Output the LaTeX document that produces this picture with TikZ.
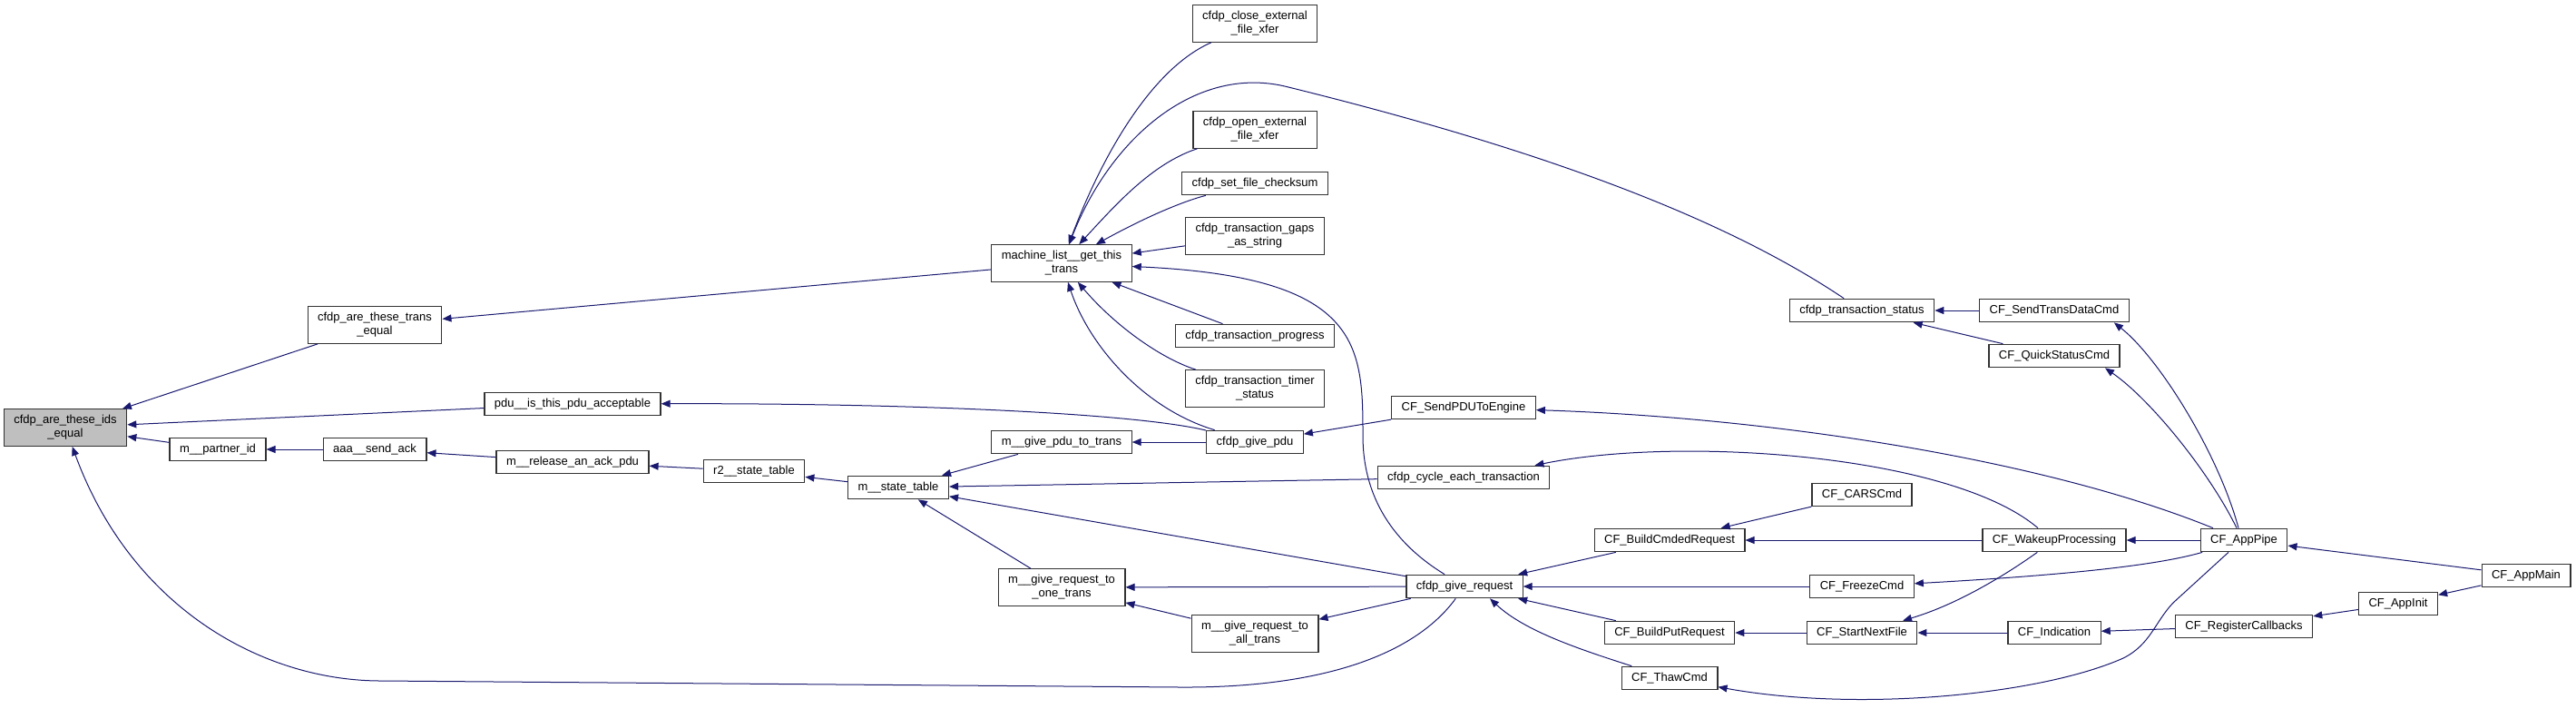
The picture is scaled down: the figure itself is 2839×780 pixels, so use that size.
\documentclass[tikz,border=0pt]{standalone}
\usepackage{fontspec}
\setmainfont{Liberation Sans}
\usetikzlibrary{arrows.meta}
\definecolor{callc}{HTML}{191970}
\definecolor{curgray}{HTML}{BFBFBF}
\tikzset{
  fn/.style={draw=black!80,line width=1.2pt,fill=white,align=center,inner xsep=11pt,inner ysep=0pt,minimum height=25.5pt,font=\fontsize{13}{15}\selectfont},
  fn2/.style={fn,minimum height=40.5pt},
  cur/.style={fn2,fill=curgray},
  ar/.style={{Triangle[length=10pt,width=8pt]}-,draw=callc,line width=1pt},
}
\begin{document}
\begin{tikzpicture}[x=1pt,y=-1pt]
  \useasboundingbox (0,0) rectangle (2839,780);
  \node[cur] (ids) at (72,471) {cfdp\_are\_these\_ids\\\_equal};
  \node[fn] (mpid) at (240,495) {m\_\_partner\_id};
  \node[fn2] (teq) at (413,358) {cfdp\_are\_these\_trans\\\_equal};
  \node[fn] (ack) at (413,495) {aaa\_\_send\_ack};
  \node[fn] (pdu) at (631,445) {pdu\_\_is\_this\_pdu\_acceptable};
  \node[fn] (rel) at (631,509) {m\_\_release\_an\_ack\_pdu};
  \node[fn] (r2) at (831,519) {r2\_\_state\_table};
  \node[fn] (mst) at (990,537) {m\_\_state\_table};
  \node[fn2] (mlist) at (1170,290) {machine\_list\_\_get\_this\\\_trans};
  \node[fn] (gpt) at (1170,487) {m\_\_give\_pdu\_to\_trans};
  \node[fn2] (gro) at (1170,647) {m\_\_give\_request\_to\\\_one\_trans};
  \node[fn2] (close) at (1383,26) {cfdp\_close\_external\\\_file\_xfer};
  \node[fn2] (open) at (1383,143) {cfdp\_open\_external\\\_file\_xfer};
  \node[fn] (chk) at (1383,202) {cfdp\_set\_file\_checksum};
  \node[fn2] (gaps) at (1383,260) {cfdp\_transaction\_gaps\\\_as\_string};
  \node[fn] (prog) at (1383,370) {cfdp\_transaction\_progress};
  \node[fn2] (timer) at (1383,428) {cfdp\_transaction\_timer\\\_status};
  \node[fn] (gpdu) at (1383,487) {cfdp\_give\_pdu};
  \node[fn2] (gra) at (1383,698) {m\_\_give\_request\_to\\\_all\_trans};
  \node[fn] (spdu) at (1613,449) {CF\_SendPDUToEngine};
  \node[fn] (cyc) at (1613,526) {cfdp\_cycle\_each\_transaction};
  \node[fn] (greq) at (1614,646) {cfdp\_give\_request};
  \node[fn] (bcr) at (1840,595) {CF\_BuildCmdedRequest};
  \node[fn] (bpr) at (1840,697) {CF\_BuildPutRequest};
  \node[fn] (thaw) at (1840,747) {CF\_ThawCmd};
  \node[fn] (tst) at (2052,342) {cfdp\_transaction\_status};
  \node[fn] (cars) at (2052,545) {CF\_CARSCmd};
  \node[fn] (frz) at (2052,646) {CF\_FreezeCmd};
  \node[fn] (snf) at (2052,697) {CF\_StartNextFile};
  \node[fn] (stdc) at (2264,342) {CF\_SendTransDataCmd};
  \node[fn] (qsc) at (2264,392) {CF\_QuickStatusCmd};
  \node[fn] (wake) at (2264,595) {CF\_WakeupProcessing};
  \node[fn] (ind) at (2264,697) {CF\_Indication};
  \node[fn] (pipe) at (2473,595) {CF\_AppPipe};
  \node[fn] (reg) at (2473,690) {CF\_RegisterCallbacks};
  \node[fn] (init) at (2643,665) {CF\_AppInit};
  \node[fn] (amain) at (2784,634) {CF\_AppMain};
  % straight calls
  \draw[ar] (ids) -- (teq); \draw[ar] (ids) -- (pdu); \draw[ar] (ids) -- (mpid);
  \draw[ar] (mpid) -- (ack); \draw[ar] (ack) -- (rel); \draw[ar] (rel) -- (r2);
  \draw[ar] (r2) -- (mst); \draw[ar] (teq) -- (mlist);
  \draw[ar] (mst) -- (gpt); \draw[ar] (mst) -- (cyc); \draw[ar] (mst) -- (greq);
  \draw[ar] (mst) -- (gro); \draw[ar] (gpt) -- (gpdu); \draw[ar] (gro) -- (greq);
  \draw[ar] (gro) -- (gra); \draw[ar] (gra) -- (greq);
  \draw[ar] (mlist) -- (gaps); \draw[ar] (mlist) -- (prog);
  \draw[ar] (gpdu) -- (spdu); \draw[ar] (tst) -- (stdc); \draw[ar] (tst) -- (qsc);
  \draw[ar] (greq) -- (bcr); \draw[ar] (greq) -- (frz); \draw[ar] (greq) -- (bpr);
  \draw[ar] (bcr) -- (cars); \draw[ar] (bcr) -- (wake); \draw[ar] (bpr) -- (snf);
  \draw[ar] (snf) -- (ind); \draw[ar] (wake) -- (pipe); \draw[ar] (ind) -- (reg);
  \draw[ar] (pipe) -- (amain); \draw[ar] (reg) -- (init); \draw[ar] (init) -- (amain);
  % curved calls
  \draw[ar] (ids) .. controls (145,670) and (290,750) .. (420,750) -- (1300,757) .. controls (1460,758) and (1560,720) .. (greq);
  \draw[ar] (pdu) .. controls (1000,444) and (1250,455) .. (gpdu);
  \draw[ar] (mlist) .. controls (1215,170) and (1270,75) .. (close);
  \draw[ar] (mlist) .. controls (1225,150) and (1320,70) .. (1420,96) .. controls (1700,165) and (1900,240) .. (tst);
  \draw[ar] (mlist) .. controls (1230,225) and (1270,180) .. (open);
  \draw[ar] (mlist) .. controls (1270,235) and (1310,220) .. (chk);
  \draw[ar] (mlist) .. controls (1230,360) and (1280,395) .. (timer);
  \draw[ar] (mlist) .. controls (1200,380) and (1260,450) .. (gpdu);
  \draw[ar] (mlist) .. controls (1500,305) and (1502,380) .. (1502,480) .. controls (1502,565) and (1555,610) .. (greq);
  \draw[ar] ([xshift=-17pt]stdc.south east) .. controls (2380,395) and (2445,500) .. ([xshift=-6pt]pipe.north);
  \draw[ar] ([xshift=56pt]qsc.south) .. controls (2370,440) and (2435,520) .. ([xshift=-8pt]pipe.north);
  \draw[ar] (spdu) .. controls (1950,460) and (2250,505) .. ([xshift=-34pt]pipe.north);
  \draw[ar] ([xshift=-17pt]cyc.north east) .. controls (1850,480) and (2150,500) .. ([xshift=-18pt]wake.north);
  \draw[ar] ([xshift=28pt]greq.south) .. controls (1680,695) and (1740,715) .. (thaw);
  \draw[ar] (snf) .. controls (2160,665) and (2215,630) .. (wake);
  \draw[ar] (frz) .. controls (2250,635) and (2370,625) .. (pipe);
  \draw[ar] (thaw) .. controls (2050,785) and (2250,765) .. (2340,725) .. controls (2370,710) and (2375,685) .. (2395,664) -- ([xshift=-17pt]pipe.south);
\end{tikzpicture}
\end{document}
